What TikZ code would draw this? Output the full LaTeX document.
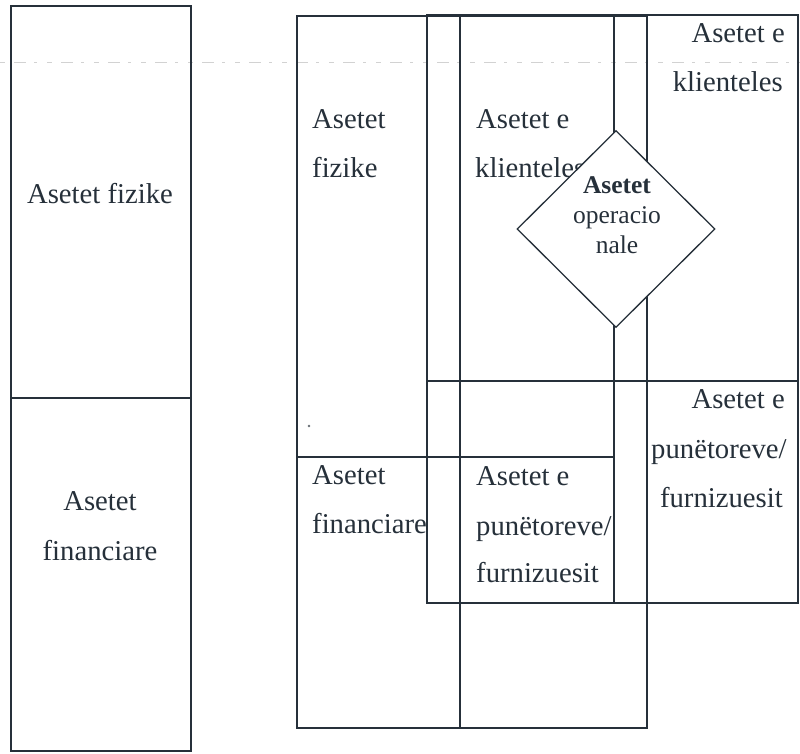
\documentclass[tikz,border=0pt]{standalone}
\usepackage{fontspec}
\setmainfont{Liberation Serif}
\usetikzlibrary{shapes.geometric}
\definecolor{ink}{RGB}{38,48,58}
\begin{document}
\begin{tikzpicture}[x=1pt,y=-1pt,
  line/.style={draw=ink,line width=1.3pt},
  lbl/.style={inner sep=0pt,text=ink,font=\fontsize{28.7}{34}\selectfont},
  dtxt/.style={inner sep=0pt,text=ink,font=\fontsize{25.5}{30}\selectfont},
  diam/.style={diamond,draw=ink,line width=1.3pt,fill=white,inner sep=0pt,minimum width=198pt,minimum height=197pt}]
\useasboundingbox (0,0) rectangle (800,753);
\fill[white] (0,0) rectangle (800,753);
% faint dashed scan line
\coordinate (dL) at (0,62);
\coordinate (dR) at (800,62);
\draw[gray!35,line width=1pt,dash pattern=on 5pt off 9pt on 12pt off 8pt on 3pt off 10pt] (dL) -- (dR);
% left box
\draw[line] (11,6) rectangle (191,751);
\draw[line] (11,398) -- (191,398);
% right composite: rectangle X
\draw[line] (297,16) rectangle (647,728);
\draw[line] (460,16) -- (460,728);
\draw[line] (297,457) -- (614,457);
% rectangle Y
\draw[line] (427,15) rectangle (798,603);
\draw[line] (427,381) -- (798,381);
\draw[line] (614,15) -- (614,603);
% small dot
\fill[ink!70] (309,426) circle (1.3pt);
% labels
\node[lbl,anchor=base] (lf) at (100,203) {Asetet fizike};
\node[lbl,anchor=base] (lfa) at (100,510) {Asetet};
\node[lbl,anchor=base] (lfb) at (100,560) {financiare};
\node[lbl,anchor=base west] (fz1) at (312,128) {Asetet};
\node[lbl,anchor=base west] (fz2) at (312,177) {fizike};
\node[lbl,anchor=base west] (kl1) at (476,128) {Asetet e};
\node[lbl,anchor=base west] (kl2) at (475,177) {klienteles};
\node[lbl,anchor=base east] (kr1) at (785,42) {Asetet e};
\node[lbl,anchor=base east] (kr2) at (783,91) {klienteles};
\node[lbl,anchor=base west] (fn1) at (312,484) {Asetet};
\node[lbl,anchor=base west] (fn2) at (312,533) {financiare};
\node[lbl,anchor=base west] (pu1) at (476,485) {Asetet e};
\node[lbl,anchor=base west] (pu2) at (476,535) {punëtoreve/};
\node[lbl,anchor=base west] (pu3) at (476,582) {furnizuesit};
\node[lbl,anchor=base east] (pr1) at (785,408) {Asetet e};
\node[lbl,anchor=base west] (pr2) at (651,458) {punëtoreve/};
\node[lbl,anchor=base east] (pr3) at (783,507) {furnizuesit};
% diamond
\node[diam] (dia) at (616,229) {};
\node[dtxt,anchor=base,font=\fontsize{25.5}{30}\selectfont\bfseries] (o1) at (617,193) {Asetet};
\node[dtxt,anchor=base] (o2) at (617,223) {operacio};
\node[dtxt,anchor=base] (o3) at (617,253) {nale};
\end{tikzpicture}
\end{document}
